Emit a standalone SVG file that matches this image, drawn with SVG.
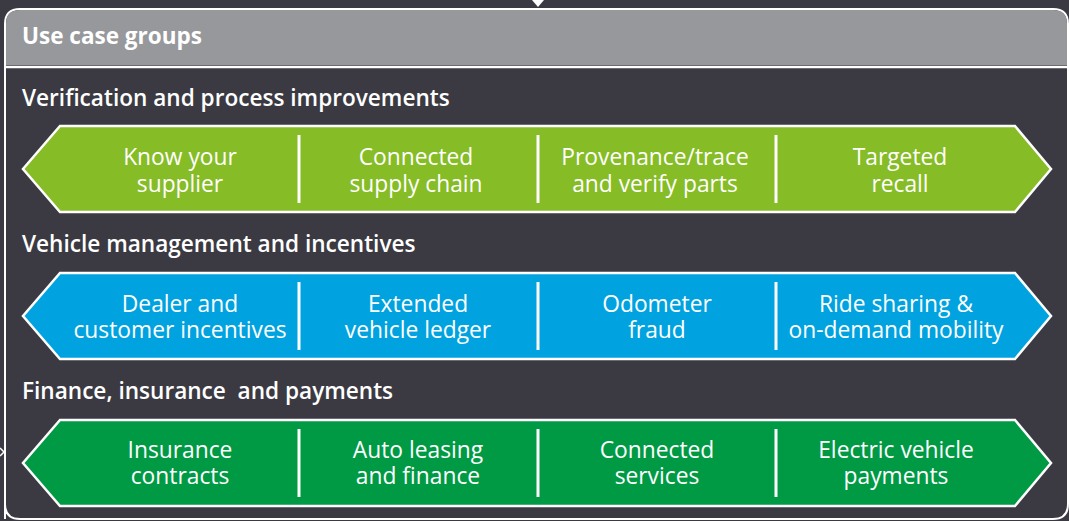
<svg xmlns="http://www.w3.org/2000/svg" width="1069" height="521" viewBox="0 0 1069 521">
<style>
.hdr{font-family:"Open Sans","Liberation Sans",sans-serif;font-weight:700;font-size:22.5px;fill:#ffffff}
.sec{font-family:"Open Sans","Liberation Sans",sans-serif;font-weight:600;font-size:22.6px;fill:#ffffff;white-space:pre}
.lbl{font-family:"Open Sans","Liberation Sans",sans-serif;font-weight:400;font-size:22.8px;fill:#ffffff;text-anchor:middle}
.band{stroke:#ffffff;stroke-width:2.5}
.div{stroke:#ffffff;stroke-width:3}
</style>
<rect x="0" y="0" width="1069" height="521" fill="#3b3a42"/>
<g id="connectors">
<path d="M532,0 L544,0 L538,7 Z" fill="#ffffff"/>
<path d="M0,448 L4,452 L0,456" fill="none" stroke="#ffffff" stroke-width="1.5"/>
</g>
<g id="frame">
<path d="M5,519 L5,24 Q5,9 20,9 L1053,9 Q1068,9 1068,24 L1068,504 Q1068,519 1053,519 L20,519 Q5,519 5,504" fill="#3b3a42" stroke="#ffffff" stroke-width="2"/>
<path d="M6,65 L6,24 Q6,10 20,10 L1053,10 Q1067,10 1067,24 L1067,65 Z" fill="#97989b"/>
<line x1="5" y1="67" x2="1068" y2="67" stroke="#ffffff" stroke-width="2.5"/>
<text class="hdr" x="22" y="44">Use case groups</text>
</g>
<g id="row1">
<text class="sec" x="22" y="106">Verification and process improvements</text>
<path class="band" d="M60,126 L1015,126 L1051,169 L1015,212 L60,212 L23,169 Z" fill="#86bc25"/>
<line class="div" x1="299" y1="135" x2="299" y2="203"/>
<line class="div" x1="538" y1="135" x2="538" y2="203"/>
<line class="div" x1="776" y1="135" x2="776" y2="203"/>
<text class="lbl" x="180" y="165">Know your</text><text class="lbl" x="180" y="192">supplier</text>
<text class="lbl" x="416" y="165">Connected</text><text class="lbl" x="416" y="192">supply chain</text>
<text class="lbl" x="655" y="165">Provenance/trace</text><text class="lbl" x="655" y="192">and verify parts</text>
<text class="lbl" x="900" y="165">Targeted</text><text class="lbl" x="900" y="192">recall</text>
</g>
<g id="row2">
<text class="sec" x="22" y="252">Vehicle management and incentives</text>
<path class="band" d="M60,273 L1015,273 L1051,316 L1015,359 L60,359 L23,316 Z" fill="#00a3e0"/>
<line class="div" x1="299" y1="282" x2="299" y2="350"/>
<line class="div" x1="538" y1="282" x2="538" y2="350"/>
<line class="div" x1="776" y1="282" x2="776" y2="350"/>
<text class="lbl" x="180" y="312">Dealer and</text><text class="lbl" x="180" y="338">customer incentives</text>
<text class="lbl" x="418" y="312">Extended</text><text class="lbl" x="418" y="338">vehicle ledger</text>
<text class="lbl" x="657" y="312">Odometer</text><text class="lbl" x="657" y="338">fraud</text>
<text class="lbl" x="896" y="312">Ride sharing &amp;</text><text class="lbl" x="896" y="338">on-demand mobility</text>
</g>
<g id="row3">
<text class="sec" x="22" y="399">Finance, insurance  and payments</text>
<path class="band" d="M60,420 L1015,420 L1051,463 L1015,506 L60,506 L23,463 Z" fill="#009a44"/>
<line class="div" x1="299" y1="429" x2="299" y2="497"/>
<line class="div" x1="538" y1="429" x2="538" y2="497"/>
<line class="div" x1="776" y1="429" x2="776" y2="497"/>
<text class="lbl" x="180" y="458">Insurance</text><text class="lbl" x="180" y="484">contracts</text>
<text class="lbl" x="418" y="458">Auto leasing</text><text class="lbl" x="418" y="484">and finance</text>
<text class="lbl" x="657" y="458">Connected</text><text class="lbl" x="657" y="484">services</text>
<text class="lbl" x="896" y="458">Electric vehicle</text><text class="lbl" x="896" y="484">payments</text>
</g>
</svg>
